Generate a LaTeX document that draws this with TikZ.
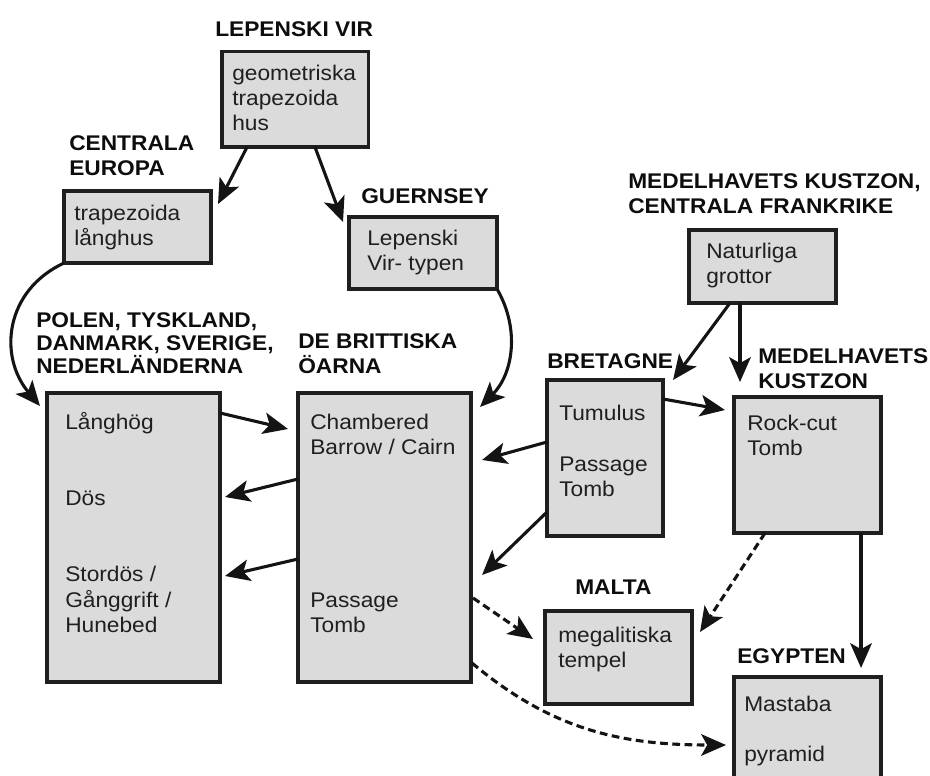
\documentclass[tikz,border=0pt]{standalone}
\usepackage{fontspec}
\setmainfont{Liberation Sans}[FakeStretch=1.07]
\usetikzlibrary{arrows.meta,calc}

\newcommand{\capstrut}{\rule{0pt}{13pt}}

\tikzset{
	box/.style={draw=black!88, line width=2.6pt, fill=black!14, rectangle, inner sep=0pt, outer sep=0pt, anchor=north west},
	boxtext/.style={anchor=north west, inner sep=0pt, align=left, text=black!88, font=\fontsize{15.1pt}{17.9pt}\selectfont},
	region/.style={boxtext, text=black!95, font=\fontsize{15.1pt}{17.9pt}\selectfont\bfseries},
	arr/.style={line width=2.2pt, draw=black!92, -{Stealth[length=6.2mm, width=5.4mm, inset=1.5mm]}},
	maybe/.style={arr, dash pattern=on 5.5pt off 3.2pt}
}

\begin{document}
\begin{tikzpicture}[x=0.025cm, y=0.025cm]
				\useasboundingbox (0,0) rectangle (930,-776);

				% Lepenski Vir
				\node[region] (lblLepenski) at (215,-17.7) {\capstrut LEPENSKI VIR};
				\node[box, minimum width=3.66cm, minimum height=2.39cm] (lepenski) at (222,-51.5) {};
				\node[boxtext] (lepenskiTxt) at (232,-61.7) {\capstrut geometriska\\trapezoida\\hus};

				% Centrala Europa
				\node[region] (lblEuropa) at (69,-131.7) {\capstrut CENTRALA\\EUROPA};
				\node[box, minimum width=3.675cm, minimum height=1.8cm] (europa) at (64,-191) {};
				\node[boxtext] (europaTxt) at (74,-201.7) {\capstrut trapezoida\\långhus};

				% Guernsey
				\node[region] (lblGuernsey) at (361,-184.7) {\capstrut GUERNSEY};
				\node[box, minimum width=3.7cm, minimum height=1.8cm] (guernsey) at (349,-217) {};
				\node[boxtext] (guernseyTxt) at (367,-226.7) {\capstrut Lepenski\\Vir- typen};

				% Medelhavets kustzon, centrala Frankrike
				\node[region] (lblFrankrike) at (628,-169.7) {\capstrut MEDELHAVETS KUSTZON,\\CENTRALA FRANKRIKE};
				\node[box, minimum width=3.675cm, minimum height=1.825cm] (grottor) at (689,-230) {};
				\node[boxtext] (grottorTxt) at (706,-239.7) {\capstrut Naturliga\\grottor};

				% Polen ... Nederlanderna
				\node[region] (lblPolen) at (36,-308.7) {\capstrut POLEN, TYSKLAND,\\[-1.5pt]DANMARK, SVERIGE,\\[-1.5pt]NEDERLÄNDERNA};
				\node[box, minimum width=4.325cm, minimum height=7.225cm] (polen) at (47,-393) {};
				\node[boxtext] (polenTxt) at (65,-411) {\capstrut Långhög\\[35.9pt]Dös\\[36.7pt]Stordös /\\Gånggrift /\\Hunebed};

				% De brittiska oarna
				\node[region] (lblBrittiska) at (298,-329.7) {\capstrut DE BRITTISKA\\ÖARNA};
				\node[box, minimum width=4.325cm, minimum height=7.225cm] (brittiska) at (298,-393) {};
				\node[boxtext] (brittiskaTxt) at (310,-410.7) {\capstrut Chambered\\Barrow / Cairn\\[90.9pt]Passage\\Tomb};

				% Bretagne
				\node[region] (lblBretagne) at (547,-349.7) {\capstrut BRETAGNE};
				\node[box, minimum width=2.9cm, minimum height=3.9cm] (bretagne) at (547,-380) {};
				\node[boxtext] (bretagneTxt) at (559,-401.7) {\capstrut Tumulus\\[18.4pt]Passage\\Tomb};

				% Medelhavets kustzon
				\node[region] (lblKustzon) at (758,-344.7) {\capstrut MEDELHAVETS\\KUSTZON};
				\node[box, minimum width=3.675cm, minimum height=3.4cm] (rockcut) at (734,-397) {};
				\node[boxtext] (rockcutTxt) at (747,-411.7) {\capstrut Rock-cut\\Tomb};

				% Malta
				\node[region] (lblMalta) at (575,-575.7) {\capstrut MALTA};
				\node[box, minimum width=3.675cm, minimum height=2.325cm] (malta) at (545,-611) {};
				\node[boxtext] (maltaTxt) at (558,-624) {\capstrut megalitiska\\tempel};

				% Egypten
				\node[region] (lblEgypten) at (737,-644.7) {\capstrut EGYPTEN};
				\node[box, minimum width=3.675cm, minimum height=3.075cm] (egypten) at (734,-677) {};
				\node[boxtext] (egyptenTxt) at (744,-693.4) {\capstrut Mastaba\\[17.3pt]pyramid};

				% Spridning
				\draw[arr] ($(lepenski.south west)+(25,0)$) -- ($(europa.north east)+(7,-13)$);
				\draw[arr] ($(lepenski.south west)+(93,0)$) -- ($(guernsey.north west)+(-6,-5)$);
				\draw[arr] (europa.south west) to[out=205, in=130, looseness=1.15] ($(polen.north west)+(-7,-13)$);
				\draw[arr] (guernsey.south east) to[out=-60, in=45] ($(brittiska.north east)+(9,-14)$);
				\draw[arr] ($(polen.north east)+(0,-20)$) -- ($(brittiska.north west)+(-10,-36)$);
				\draw[arr] ($(brittiska.north west)+(0,-86)$) -- ($(polen.north east)+(5,-104)$);
				\draw[arr] ($(brittiska.north west)+(0,-166)$) -- ($(polen.north east)+(5,-183)$);
				\draw[arr] ($(grottor.south west)+(41,0)$) -- ($(bretagne.north east)+(10,0)$);
				\draw[arr] ($(grottor.south west)+(51,0)$) -- ($(rockcut.north west)+(6,15)$);
				\draw[arr] ($(bretagne.north east)+(0,-19)$) -- ($(rockcut.north west)+(-9,-13)$);
				\draw[arr] ($(bretagne.north west)+(0,-62)$) -- ($(brittiska.north east)+(11,-67)$);
				\draw[arr] ($(bretagne.north west)+(0,-132)$) -- ($(brittiska.north east)+(11,-182)$);
				\draw[arr] ($(rockcut.south east)+(-20,0)$) -- ($(egypten.north east)+(-20,9)$);

				% Osakra samband
				\draw[maybe] ($(brittiska.north east)+(2,-205)$) -- ($(malta.north west)+(-12,-28)$);
				\draw[maybe] ($(rockcut.south west)+(31,0)$) -- ($(malta.north east)+(8,-21)$);
				\draw[maybe] ($(brittiska.south east)+(1,19)$) to[out=-40, in=180] ($(egypten.north west)+(-8,-68)$);
			\end{tikzpicture}
\end{document}
